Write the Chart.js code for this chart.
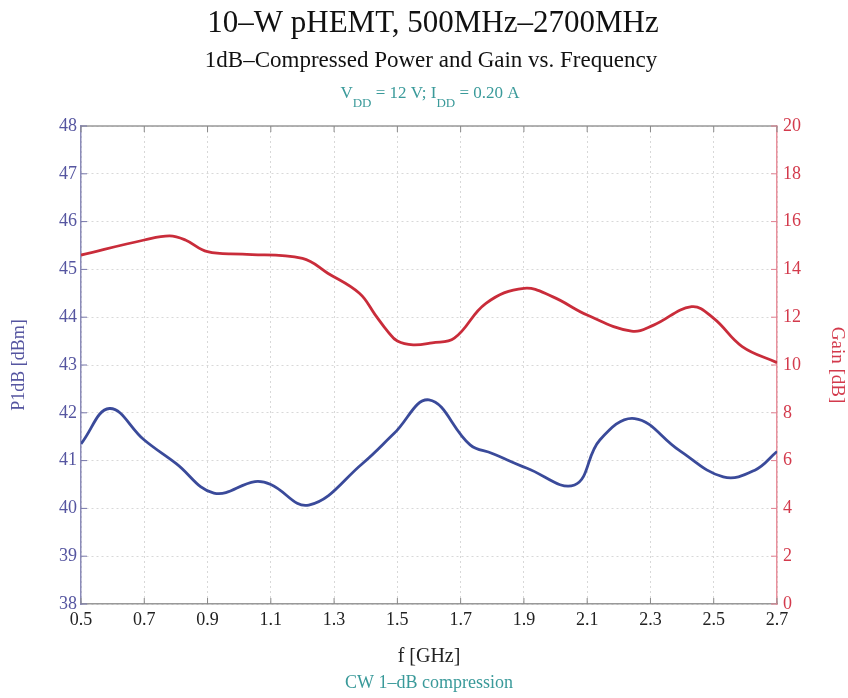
<!DOCTYPE html>
<html>
<head>
<meta charset="utf-8">
<title>10-W pHEMT P1dB and Gain</title>
<script src="https://cdn.jsdelivr.net/npm/chart.js"></script>
<style>
  html, body { margin: 0; padding: 0; background: #fff; }
  #wrap { position: relative; width: 848px; height: 698px; }
</style>
</head>
<body>
<div id="wrap"><canvas id="chart"></canvas></div>
<script>
// Frequency ticks (GHz) and axis ticks
const freqTicks = [0.5, 0.7, 0.9, 1.1, 1.3, 1.5, 1.7, 1.9, 2.1, 2.3, 2.5, 2.7];
const p1dbTicks = [38, 39, 40, 41, 42, 43, 44, 45, 46, 47, 48];
const gainTicks = [0, 2, 4, 6, 8, 10, 12, 14, 16, 18, 20];

// P1dB [dBm]
const p1dbFreq = [0.50, 0.59, 0.70, 0.80, 0.92, 1.05, 1.10, 1.22, 1.39, 1.49, 1.60,
                  1.73, 1.80, 1.91, 2.06, 2.14, 2.25, 2.39, 2.53, 2.63, 2.70];
const p1dbVals = [41.35, 42.09, 41.43, 40.94, 40.32, 40.56, 40.50, 40.07, 40.94, 41.57, 42.27,
                  41.33, 41.15, 40.84, 40.49, 41.43, 41.88, 41.22, 40.66, 40.80, 41.19];

// Gain [dB]
const gainFreq = [0.50, 0.70, 0.78, 0.83, 0.90, 1.01, 1.20, 1.28, 1.38, 1.43, 1.47, 1.50, 1.55, 1.61,
                  1.68, 1.78, 1.90, 1.99, 2.10, 2.24, 2.31, 2.43, 2.50, 2.59, 2.70];
const gainVals = [14.60, 15.23, 15.40, 15.23, 14.74, 14.64, 14.46, 13.84, 13.00, 12.10, 11.40, 11.00, 10.84, 10.93,
                  11.12, 12.58, 13.21, 12.86, 12.09, 11.42, 11.67, 12.44, 11.95, 10.77, 10.10];

const SERIF = "'Liberation Serif', 'Times New Roman', serif";
const BLUE = '#3a4a9a';
const BLUE_TXT = '#5555a0';
const RED = '#c92c3a';
const RED_TXT = '#d33a4c';
const TEAL = '#3a9a9a';

function pts(xs, ys) {
    return xs.map((x, i) => ({ x: x, y: ys[i] }));
}

// Titles, the V/I line with subscripts, inward ticks and the top frame line
const decorPlugin = {
    id: 'decor',
    afterDraw(chart) {
        const ctx = chart.ctx;
        const area = chart.chartArea;
        const cx = (area.left + area.right) / 2;
        ctx.save();
        ctx.textAlign = 'center';
        ctx.textBaseline = 'alphabetic';
        ctx.fillStyle = '#111';
        ctx.font = '31px ' + SERIF;
        ctx.fillText('10–W pHEMT, 500MHz–2700MHz', cx + 4, 32);
        ctx.font = '23px ' + SERIF;
        ctx.fillText('1dB–Compressed Power and Gain vs. Frequency', cx + 2, 67);

        // V_DD = 12 V; I_DD = 0.20 A
        const parts = [
            ['V', false], ['DD', true], [' = 12 V; I', false], ['DD', true], [' = 0.20 A', false]
        ];
        const big = '17px ' + SERIF, small = '13px ' + SERIF;
        let total = 0;
        parts.forEach(p => { ctx.font = p[1] ? small : big; total += ctx.measureText(p[0]).width; });
        let x = cx + 1 - total / 2;
        ctx.textAlign = 'left';
        ctx.fillStyle = TEAL;
        parts.forEach(p => {
            ctx.font = p[1] ? small : big;
            ctx.fillText(p[0], x, p[1] ? 107 : 98);
            x += ctx.measureText(p[0]).width;
        });

        ctx.textAlign = 'center';
        ctx.font = '18px ' + SERIF;
        ctx.fillText('CW 1–dB compression', cx, 688);

        // top frame line
        ctx.strokeStyle = '#999';
        ctx.lineWidth = 1.5;
        ctx.beginPath();
        ctx.moveTo(area.left, area.top);
        ctx.lineTo(area.right, area.top);
        ctx.stroke();

        // inward ticks
        const tl = 6;
        ctx.lineWidth = 1;
        ctx.strokeStyle = '#888';
        const xs = chart.scales.x;
        freqTicks.forEach(v => {
            const px = xs.getPixelForValue(v);
            ctx.beginPath();
            ctx.moveTo(px, area.bottom); ctx.lineTo(px, area.bottom - tl);
            ctx.moveTo(px, area.top); ctx.lineTo(px, area.top + tl);
            ctx.stroke();
        });
        ctx.strokeStyle = '#7777aa';
        p1dbTicks.forEach(v => {
            const py = chart.scales.y.getPixelForValue(v);
            ctx.beginPath();
            ctx.moveTo(area.left, py); ctx.lineTo(area.left + tl, py);
            ctx.stroke();
        });
        ctx.strokeStyle = '#e08090';
        gainTicks.forEach(v => {
            const py = chart.scales.y2.getPixelForValue(v);
            ctx.beginPath();
            ctx.moveTo(area.right, py); ctx.lineTo(area.right - tl, py);
            ctx.stroke();
        });
        ctx.restore();
    }
};

const config = {
    type: 'line',
    data: {
        datasets: [
            {
                label: 'P1dB',
                data: pts(p1dbFreq, p1dbVals),
                yAxisID: 'y',
                borderColor: BLUE,
                borderWidth: 2.8,
                pointRadius: 0,
                tension: 0.4,
                fill: false
            },
            {
                label: 'Gain',
                data: pts(gainFreq, gainVals),
                yAxisID: 'y2',
                borderColor: RED,
                borderWidth: 2.8,
                pointRadius: 0,
                tension: 0.4,
                fill: false
            }
        ]
    },
    options: {
        responsive: true,
        maintainAspectRatio: false,
        animation: false,
        layout: { padding: { top: 126, bottom: 27, left: 0, right: 0 } },
        plugins: {
            legend: { display: false },
            tooltip: { enabled: false }
        },
        scales: {
            x: {
                type: 'linear',
                min: 0.5,
                max: 2.7,
                afterBuildTicks: s => { s.ticks = freqTicks.map(v => ({ value: v })); },
                afterFit: s => { s.height = 67; },
                grid: { color: '#d8d8d8', drawTicks: false },
                border: { color: '#999', width: 1.5, dash: [2, 3] },
                ticks: {
                    color: '#222',
                    padding: 5,
                    font: { family: SERIF, size: 18 },
                    callback: v => v.toFixed(1)
                },
                title: {
                    display: true,
                    text: 'f [GHz]',
                    color: '#222',
                    font: { family: SERIF, size: 20 },
                    padding: { top: 0, bottom: 2 }
                }
            },
            y: {
                position: 'left',
                min: 38,
                max: 48,
                afterBuildTicks: s => { s.ticks = p1dbTicks.map(v => ({ value: v })); },
                afterFit: s => { s.width = 81; },
                grid: { color: '#d8d8d8', drawTicks: false },
                border: { color: '#8a8ab8', width: 1.5, dash: [2, 3] },
                ticks: {
                    color: BLUE_TXT,
                    padding: 4,
                    font: { family: SERIF, size: 18 }
                },
                title: {
                    display: true,
                    text: 'P1dB [dBm]',
                    color: BLUE_TXT,
                    font: { family: SERIF, size: 18 },
                    padding: { top: 8, bottom: 0 }
                }
            },
            y2: {
                position: 'right',
                min: 0,
                max: 20,
                afterBuildTicks: s => { s.ticks = gainTicks.map(v => ({ value: v })); },
                afterFit: s => { s.width = 71; },
                grid: { drawOnChartArea: false, drawTicks: false },
                border: { color: '#e8909c', width: 1.5 },
                ticks: {
                    color: RED_TXT,
                    padding: 6,
                    font: { family: SERIF, size: 18 }
                },
                title: {
                    display: true,
                    text: 'Gain [dB]',
                    color: RED_TXT,
                    font: { family: SERIF, size: 19 },
                    padding: { top: 0, bottom: 0 }
                }
            }
        }
    },
    plugins: [decorPlugin]
};

new Chart(document.getElementById('chart').getContext('2d'), config);
</script>
</body>
</html>
